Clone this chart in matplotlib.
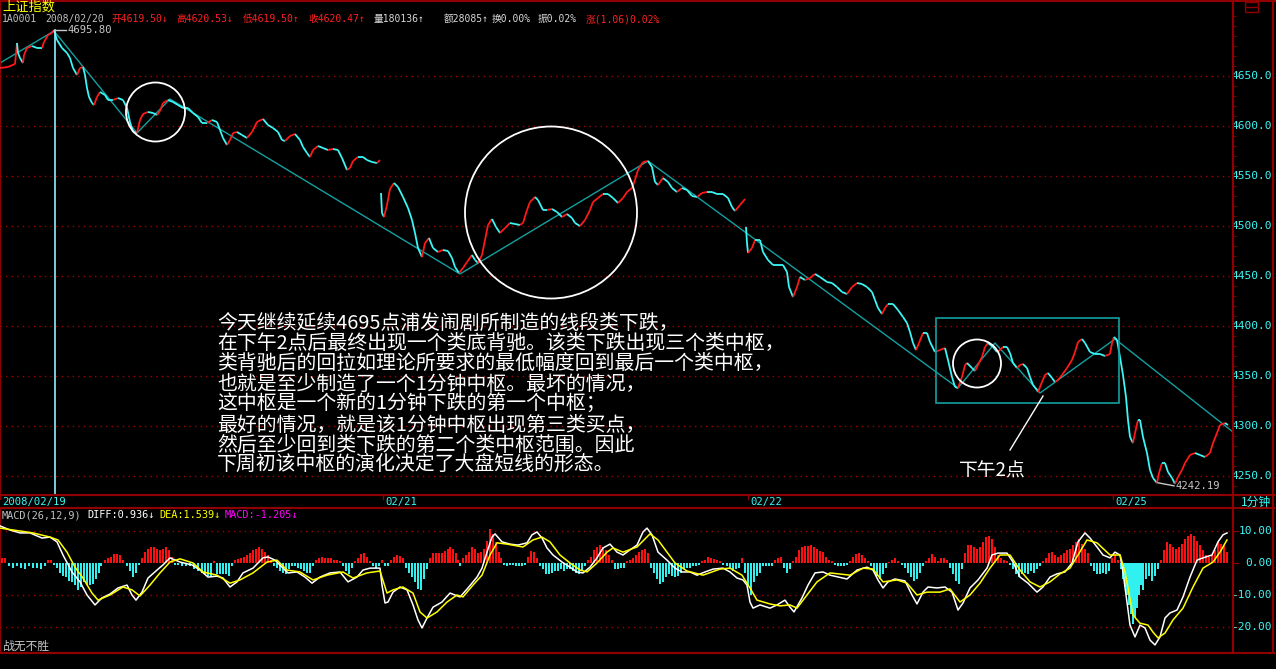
import numpy as np
import matplotlib
matplotlib.use("Agg")
import matplotlib.pyplot as plt
from matplotlib.collections import LineCollection
from matplotlib.patches import Circle, Rectangle

plt.rcParams['font.family'] = ['DejaVu Sans Mono', 'Noto Sans CJK SC']

# ---- data: time axis in chart units (one unit per screen column) ----
day1 = [(0, 4658), (8, 4659), (15, 4662), (17, 4683), (18, 4673), (20, 4668), (23, 4663), (24, 4671),
        (27, 4678), (32, 4680), (37, 4678), (42, 4678), (44, 4684), (48, 4691), (52, 4693), (54, 4695.8),
        (57, 4686), (62, 4678), (67, 4673), (70, 4668), (73, 4658), (77, 4651), (80, 4658), (83, 4659),
        (85, 4651), (87, 4638), (89, 4629), (92, 4623), (94, 4621), (97, 4629), (100, 4634), (105, 4631),
        (108, 4626), (113, 4626), (118, 4628), (123, 4626), (127, 4618), (130, 4604), (133, 4594), (137, 4593),
        (140, 4606), (143, 4612), (148, 4614), (153, 4613), (157, 4611), (160, 4615), (163, 4623), (168, 4626),
        (173, 4624), (178, 4621), (183, 4618), (188, 4618), (193, 4613), (198, 4609), (202, 4603), (207, 4603),
        (212, 4606), (217, 4604), (220, 4596), (223, 4588), (227, 4581), (230, 4586), (233, 4593), (237, 4594),
        (242, 4591), (247, 4588), (252, 4594), (257, 4604), (263, 4607), (268, 4601), (273, 4598), (278, 4594),
        (282, 4586), (285, 4585), (290, 4590), (295, 4592), (300, 4586), (303, 4579), (307, 4573), (310, 4569),
        (313, 4576), (318, 4580), (323, 4578), (328, 4576), (333, 4577), (338, 4576), (342, 4568), (347, 4556),
        (350, 4558), (353, 4565), (358, 4569), (363, 4569), (367, 4566), (372, 4564), (377, 4563), (380, 4566)]

day2 = [(381, 4533), (382, 4513), (384, 4509), (387, 4521), (390, 4537), (394, 4543), (398, 4539), (403, 4529),
        (408, 4518), (412, 4506), (415, 4493), (418, 4478), (422, 4469), (425, 4483), (429, 4488), (433, 4478),
        (438, 4474), (443, 4476), (448, 4475), (452, 4468), (455, 4459), (459, 4453), (463, 4458), (467, 4464),
        (472, 4471), (475, 4466), (478, 4463), (482, 4471), (485, 4486), (488, 4501), (492, 4507), (496, 4499),
        (500, 4493), (505, 4498), (510, 4503), (515, 4502), (520, 4501), (523, 4503), (527, 4516), (530, 4524),
        (535, 4529), (538, 4526), (543, 4516), (547, 4516), (552, 4517), (557, 4514), (562, 4509), (567, 4512),
        (572, 4508), (575, 4503), (580, 4500), (585, 4506), (590, 4516), (593, 4524), (598, 4528), (603, 4532),
        (608, 4532), (613, 4528), (618, 4523), (623, 4528), (627, 4534), (632, 4538), (635, 4546), (638, 4556),
        (643, 4564), (648, 4565), (652, 4559), (655, 4544), (658, 4541), (663, 4548), (668, 4544), (672, 4538),
        (677, 4534), (682, 4538), (687, 4536), (692, 4530), (697, 4529), (702, 4533), (707, 4534), (712, 4534),
        (717, 4532), (723, 4532), (728, 4528), (732, 4519), (735, 4515), (740, 4521), (745, 4527)]

day3 = [(746, 4499), (747, 4483), (748, 4473), (752, 4478), (755, 4486), (760, 4486), (763, 4474), (768, 4466),
        (773, 4461), (780, 4461), (783, 4461), (787, 4454), (789, 4439), (793, 4429), (797, 4439), (800, 4449),
        (805, 4446), (810, 4448), (815, 4452), (820, 4449), (827, 4444), (832, 4443), (837, 4439), (842, 4434),
        (847, 4432), (852, 4439), (857, 4443), (862, 4442), (867, 4439), (872, 4434), (875, 4426), (878, 4418),
        (882, 4412), (885, 4418), (888, 4422), (893, 4422), (898, 4416), (903, 4409), (907, 4403), (910, 4394),
        (913, 4383), (916, 4376), (919, 4383), (923, 4393), (927, 4393), (930, 4384), (935, 4374), (940, 4376),
        (945, 4378), (948, 4366), (952, 4349), (955, 4339), (958, 4338), (962, 4349), (965, 4361), (967, 4363),
        (972, 4358), (975, 4355), (978, 4361), (982, 4369), (985, 4379), (988, 4383), (993, 4379), (997, 4374),
        (1000, 4376), (1003, 4379), (1007, 4379), (1010, 4373), (1013, 4363), (1017, 4358), (1020, 4361),
        (1023, 4362), (1027, 4358), (1030, 4349), (1033, 4341), (1037, 4336), (1038, 4334), (1042, 4344),
        (1045, 4351), (1048, 4353), (1052, 4348), (1055, 4344), (1058, 4346), (1062, 4351), (1067, 4358),
        (1072, 4366), (1075, 4374), (1078, 4384), (1082, 4387), (1085, 4383), (1090, 4374), (1095, 4372),
        (1100, 4372), (1105, 4370), (1110, 4372), (1112, 4383), (1114, 4389), (1117, 4386), (1120, 4369),
        (1123, 4351), (1126, 4329), (1128, 4306), (1130, 4289), (1133, 4283), (1135, 4293), (1138, 4306),
        (1140, 4306), (1143, 4289), (1147, 4273), (1150, 4256), (1153, 4248), (1157, 4243), (1159, 4253),
        (1162, 4263), (1165, 4263), (1168, 4254), (1172, 4248), (1175, 4242.19), (1178, 4249), (1182, 4256),
        (1185, 4263), (1190, 4271), (1195, 4273), (1200, 4271), (1205, 4269), (1210, 4273), (1213, 4283),
        (1217, 4293), (1220, 4301), (1225, 4303), (1228, 4301)]

# hand-drawn segment lines, circles and the hub box
trend = [(0, 4663), (54, 4695), (137, 4593), (170, 4627), (460, 4452), (648, 4565), (958, 4338),
         (995, 4383), (1040, 4333), (1115, 4387), (1233, 4294)]
circles = [(155.5, 4614, 29.5), (551, 4513.5, 86), (977, 4362.5, 24)]
hub_box = (936, 4323, 1119, 4408)
pointer = [(1043, 4330), (1010, 4276)]

diff_line = [(0, 11.6), (10, 10.3), (20, 9.4), (30, 9.4), (42, 7.8), (50, 8.1), (57, 6.6), (63, 2.5),
             (72, -2.8), (80, -5.9), (87, -10.0), (95, -13.1), (102, -10.9), (110, -9.7), (118, -7.8),
             (127, -6.9), (132, -10.0), (136, -11.6), (142, -9.1), (148, -4.7), (157, -2.2), (163, -0.6),
             (170, 1.6), (180, 0.3), (192, -0.6), (200, -2.2), (208, -4.4), (217, -4.1), (223, -4.7),
             (230, -7.5), (237, -5.9), (243, -3.1), (253, -1.6), (263, 1.6), (268, 1.9), (275, 0.9),
             (282, -1.3), (288, -3.1), (297, -2.8), (305, -4.4), (312, -6.3), (320, -4.4), (330, -3.1),
             (340, -2.8), (348, -5.9), (357, -4.4), (363, -2.2), (370, -1.6), (380, -1.6), (382, -6.9),
             (385, -12.5), (388, -12.2), (393, -9.1), (400, -7.5), (407, -8.4), (413, -13.1), (418, -17.8),
             (422, -20.3), (427, -17.2), (433, -13.8), (442, -12.2), (450, -9.4), (460, -10.6), (468, -7.8),
             (477, -4.4), (482, -1.6), (487, 3.4), (492, 8.1), (495, 9.1), (502, 6.6), (510, 5.9), (518, 5.6),
             (527, 6.3), (532, 8.8), (537, 9.7), (542, 7.8), (547, 4.7), (553, 2.5), (562, 0.3), (570, -1.3),
             (577, -2.8), (583, -3.1), (590, -1.3), (597, 1.6), (603, 4.7), (610, 5.9), (617, 3.4), (623, 2.5),
             (630, 4.1), (637, 5.6), (643, 9.7), (647, 10.9), (652, 8.8), (658, 3.4), (667, 0.9), (675, -1.6),
             (682, -2.8), (690, -2.8), (697, -3.8), (705, -2.8), (713, -1.9), (723, -1.6), (730, -2.8),
             (737, -4.7), (743, -5.3), (747, -6.9), (750, -12.2), (753, -14.1), (760, -13.1), (770, -14.1),
             (777, -13.1), (785, -11.6), (790, -13.8), (794, -15.3), (802, -10.9), (808, -6.9), (815, -3.1),
             (823, -2.8), (830, -3.8), (847, -5.0), (857, -2.2), (867, -1.3), (873, -2.2), (878, -5.3),
             (883, -7.8), (888, -5.9), (895, -5.0), (905, -5.6), (912, -10.0), (917, -12.8), (923, -9.1),
             (928, -7.5), (937, -7.8), (945, -7.5), (952, -9.1), (958, -14.7), (963, -12.5), (970, -7.8),
             (978, -5.3), (987, -1.6), (992, 2.5), (998, 3.1), (1007, 3.1), (1013, 0.3), (1020, -4.4),
             (1028, -6.3), (1037, -9.1), (1043, -7.5), (1050, -4.4), (1057, -3.4), (1065, -2.8), (1072, 0.0),
             (1078, 6.6), (1085, 9.4), (1090, 7.8), (1097, 5.0), (1103, 2.5), (1110, 1.6), (1115, 3.4),
             (1120, 2.5), (1123, -2.8), (1127, -12.2), (1130, -19.4), (1135, -23.1), (1140, -19.4),
             (1145, -20.3), (1150, -24.1), (1155, -25.6), (1160, -23.1), (1165, -17.2), (1170, -15.6),
             (1177, -14.7), (1183, -10.6), (1190, -4.4), (1197, 0.9), (1203, 1.6), (1212, 2.5), (1218, 6.6),
             (1223, 8.8), (1227, 9.4)]

dea_line = [(0, 10.9), (20, 10.0), (33, 9.4), (50, 8.1), (58, 7.2), (67, 3.4), (75, -1.3), (83, -4.7),
            (92, -9.4), (98, -11.6), (110, -10.0), (123, -7.5), (132, -8.4), (140, -10.3), (150, -6.9),
            (160, -3.1), (170, 0.3), (180, 1.3), (193, 0.0), (203, -2.8), (217, -3.8), (230, -6.3),
            (240, -5.3), (253, -3.1), (267, 0.3), (277, 0.9), (287, -2.2), (300, -2.8), (313, -5.3),
            (327, -3.8), (343, -2.8), (353, -4.7), (367, -3.1), (380, -2.5), (387, -9.4), (393, -8.4),
            (403, -7.5), (413, -9.4), (420, -15.3), (427, -17.2), (437, -15.3), (447, -12.2), (457, -10.0),
            (463, -10.6), (473, -6.9), (482, -3.8), (490, 2.5), (497, 6.3), (507, 5.9), (523, 5.0),
            (533, 7.2), (542, 8.1), (550, 6.6), (560, 2.5), (570, 0.0), (580, -2.2), (587, -2.8), (597, 0.0),
            (607, 3.4), (613, 4.7), (623, 3.4), (637, 5.0), (650, 9.1), (658, 7.2), (667, 3.4), (675, 0.0),
            (687, -2.5), (703, -3.8), (720, -1.9), (730, -1.6), (742, -3.8), (750, -7.8), (757, -11.6),
            (770, -12.8), (780, -13.4), (790, -13.1), (797, -14.1), (807, -10.0), (817, -5.9), (830, -3.1),
            (850, -3.8), (863, -1.6), (873, -1.9), (883, -5.9), (897, -5.3), (907, -6.3), (917, -10.0),
            (927, -9.1), (940, -9.1), (950, -8.1), (960, -12.2), (970, -10.0), (980, -6.3), (990, -1.6),
            (1000, 2.5), (1010, 2.5), (1020, -2.2), (1030, -5.9), (1040, -7.5), (1050, -5.9), (1060, -3.4),
            (1070, -1.6), (1078, 2.5), (1087, 7.2), (1097, 6.3), (1110, 2.5), (1120, 2.5), (1125, -2.8),
            (1133, -16.3), (1140, -18.8), (1148, -19.4), (1153, -21.6), (1158, -23.4), (1165, -21.9),
            (1173, -17.8), (1183, -14.1), (1193, -7.5), (1203, -1.6), (1213, 0.3), (1220, 3.4), (1227, 7.2)]

macd_bars = [(2, 1.5), (5, 1.5), (9, -1), (13, -1.5), (17, -1), (21, -1.5), (25, -2), (29, -1), (33, -1.5),
             (37, -1.5), (41, -2), (45, -1), (48, 0.8), (51, 0.8), (54, -0.5), (57, -1.5), (60, -3), (63, -4),
             (66, -4.5), (69, -5.5), (72, -6), (75, -7), (78, -8.5), (81, -7.5), (84, -6), (87, -7), (90, -7),
             (93, -6.5), (96, -5), (99, -3), (101, -1), (105, 1), (108, 1.5), (111, 2), (114, 2.8), (117, 2.8),
             (120, 2.5), (123, 1), (127, -1), (130, -2.5), (133, -4.5), (136, -3), (139, -0.5), (142, 1.5),
             (145, 3.5), (148, 4.5), (151, 5), (154, 5), (157, 4.5), (160, 4), (163, 4.5), (166, 5), (169, 4),
             (172, 2), (175, -0.5), (178, -0.5), (182, -1), (186, -1), (190, -1), (194, -2), (198, -2.5),
             (202, -3), (205, -3.5), (208, -4), (211, -4), (214, 0.5), (217, -3.5), (220, -3.5), (223, -3.5),
             (226, -3.5), (229, -4), (232, -1), (235, 1), (238, 1.3), (241, 1.5), (244, 2), (247, 2.5),
             (250, 3), (253, 4), (256, 4.5), (259, 5), (262, 4.5), (265, 3.5), (268, 2.5), (271, 1), (274, -1),
             (277, -1.5), (280, -2.5), (283, -3), (286, -3.5), (289, -2), (292, -1), (295, -1), (298, -1.5),
             (301, -2), (304, -2.5), (307, -3), (310, -3), (313, -1), (316, 1), (319, 1.5), (322, 1.8),
             (325, 1.5), (328, 1.5), (331, 1.5), (334, 1), (337, 0.8), (340, 0.5), (343, -1), (346, -2.5),
             (349, -3.5), (352, -1.5), (355, 0.5), (358, 1.5), (361, 2.8), (364, 3), (367, 2), (370, 0.5),
             (373, -1), (376, -1.5), (379, -1), (382, 1), (385, -1), (388, -1), (391, 1), (394, 2), (397, 2.4),
             (400, 2.2), (403, 1.5), (406, -1.5), (409, -3), (412, -4.5), (415, -6), (418, -8), (421, -8.5),
             (424, -5), (427, -2), (430, 1.5), (433, 3), (436, 3), (439, 3), (442, 3.2), (445, 3.8), (448, 4.5),
             (450, 5), (453, 4.5), (456, 3), (458, 1), (460, -1), (463, 1.5), (466, 2.5), (469, 3.5), (472, 5),
             (475, 4.5), (478, 3), (481, 3.5), (484, 4.5), (487, 7), (490, 10.5), (493, 9), (496, 6.5),
             (499, 3.5), (501, 1.5), (504, -0.5), (507, -0.8), (510, -0.5), (513, -0.5), (516, -0.8),
             (519, -1), (522, -1), (525, -0.5), (528, 2), (531, 3.8), (534, 3.5), (537, 1.5), (540, -1),
             (543, -2), (546, -3.5), (549, -3.5), (552, -3), (555, -2.5), (558, -2.5), (561, -2), (564, -2.5),
             (567, -2), (570, -2), (573, -2.5), (576, -3), (579, -3.5), (582, -2.5), (585, -1), (588, 1),
             (591, 2), (594, 4), (597, 5), (600, 5.5), (603, 5), (606, 4), (609, 2.5), (612, 1), (615, -2),
             (618, -2), (621, -1.5), (624, -1.5), (627, 0.5), (630, 1), (633, 1.5), (636, 2.5), (639, 3.5),
             (642, 4.2), (645, 4.5), (648, 3), (651, -1.5), (654, -3), (657, -5), (660, -6.5), (663, -6),
             (666, -4.5), (669, -3.5), (672, -4), (675, -4.5), (678, -4), (681, -3), (684, -2), (687, -1.5),
             (690, -1.5), (693, -1), (696, -1), (699, -0.5), (702, 0.5), (705, 1), (708, 1.8), (711, 1.5),
             (714, 1.2), (717, 1), (720, 0.5), (723, -0.5), (727, -1), (730, -2), (733, -2.5), (736, -2),
             (739, -1.5), (742, 1.5), (745, -3), (748, -7), (751, -10), (754, -6), (757, -4), (760, -3),
             (763, -1), (766, -1), (769, -1), (772, -0.8), (775, 0.8), (778, 1.5), (781, 1.8), (784, -1.5),
             (787, -3), (790, -2), (793, 0.5), (796, 2), (799, 4), (802, 5), (805, 5.2), (808, 5.3), (811, 5.5),
             (814, 5), (817, 4.5), (820, 3.8), (823, 3.5), (826, 2), (829, 1), (832, 0.5), (835, -0.5),
             (838, -1), (841, -1), (844, -1), (847, -0.5), (850, 0.5), (853, 2), (856, 2.8), (859, 3),
             (862, 2.5), (865, 1.5), (868, 0.5), (871, -1), (874, -2.5), (877, -4), (880, -5), (883, -3.5),
             (886, -1.5), (889, 0.3), (892, 1), (895, 1.5), (898, 0.5), (902, -0.5), (905, -1.5), (908, -3),
             (911, -4.5), (914, -5.5), (917, -5), (920, -3), (923, -1), (926, 0.5), (929, 1.5), (932, 2.8),
             (935, 2), (938, 0.5), (941, 1.5), (944, 1.5), (947, 0.8), (950, -1.5), (953, -3.5), (956, -5.5),
             (959, -6.5), (962, -2), (965, 3), (968, 5.5), (971, 5.5), (974, 5), (977, 4.5), (980, 5),
             (983, 6.5), (986, 8), (989, 8.5), (992, 7.5), (995, 5), (998, 2.5), (1001, 1.5), (1004, 1),
             (1007, 0.5), (1010, -0.5), (1013, -2), (1016, -3.5), (1019, -4.5), (1022, -3.5), (1025, -3),
             (1028, -3.5), (1031, -2.5), (1034, -3), (1037, -2), (1040, -1), (1043, 0.5), (1046, 1.5),
             (1049, 3), (1052, 3.5), (1055, 2.5), (1058, 2), (1061, 2.5), (1064, 3), (1067, 4), (1070, 4.5),
             (1073, 5.5), (1076, 6.5), (1079, 7.5), (1082, 6), (1085, 4.5), (1088, 3), (1091, -1),
             (1094, -2.5), (1097, -3.5), (1100, -3.5), (1103, -3), (1106, -3.5), (1109, -2.5), (1112, 1.5),
             (1115, 2.5), (1118, 1), (1121, -2), (1123, -5), (1125, -7.5), (1127, -10), (1129, -13),
             (1131, -16), (1133, -19), (1135, -17), (1137, -14), (1139, -10), (1141, -7), (1143, -8.5),
             (1146, -5), (1149, -4), (1152, -5.5), (1155, -4), (1158, -2), (1161, 1), (1164, 4), (1167, 6.5),
             (1170, 6), (1173, 5), (1176, 4.5), (1179, 5), (1182, 6), (1185, 7.5), (1188, 8.5), (1191, 9),
             (1194, 8.5), (1197, 7), (1200, 5.5), (1203, 4), (1206, 2.5), (1209, 2), (1212, 2.5), (1215, 4),
             (1218, 6.5), (1221, 6), (1224, 5.5), (1227, 3.5)]

price_ticks = [4650, 4600, 4550, 4500, 4450, 4400, 4350, 4300, 4250]
macd_ticks = [10, 0, -10, -20]
macd_grid = [10, -10, -20]
date_ticks = [(0, '2008/02/19'), (383, '02/21'), (748, '02/22'), (1113, '02/25')]
high_point = (54, 4695.80)
low_point = (1175, 4242.19)

quote_items = [(2, '1A0001', '#c0c0c0'), (45, '2008/02/20', '#c0c0c0'), (112, '开4619.50↓', '#ff2020'),
               (176, '高4620.53↓', '#ff2020'), (243, '低4619.50↑', '#ff2020'), (308, '收4620.47↑', '#ff2020'),
               (374, '量180136↑', '#d8d8d8'), (444, '额28085↑', '#d8d8d8'), (492, '换0.00%', '#d8d8d8'),
               (538, '振0.02%', '#d8d8d8'), (586, '涨(1.06)0.02%', '#ff2020')]
macd_items = [(2, 'MACD(26,12,9)', '#c0c0c0'), (87, 'DIFF:0.936↓', '#ffffff'),
              (159, 'DEA:1.539↓', '#ffff00'), (225, 'MACD:-1.205↓', '#ff00ff')]

note_lines = ['今天继续延续4695点浦发闹剧所制造的线段类下跌，',
              '在下午2点后最终出现一个类底背驰。该类下跌出现三个类中枢，',
              '类背驰后的回拉如理论所要求的最低幅度回到最后一个类中枢，',
              '也就是至少制造了一个1分钟中枢。最坏的情况，',
              '这中枢是一个新的1分钟下跌的第一个中枢；',
              '最好的情况，就是该1分钟中枢出现第三类买点，',
              '然后至少回到类下跌的第二个类中枢范围。因此',
              '下周初该中枢的演化决定了大盘短线的形态。']

# ---- styling ----
W, H = 1276, 669
X_END = 1233
RED = '#ff1a1a'
CYAN = '#3cf6f6'
TEAL = '#14a0a0'
DARKRED = '#900000'
GRID = '#a00000'


def fx(x):
    return x / W


def fy(y):
    return 1 - y / H


fig = plt.figure(figsize=(W / 100, H / 100), dpi=100, facecolor='black')

# main price panel: rows 0..495, one price point per pixel
ax = fig.add_axes([0, fy(495), fx(X_END), 495 / H])
ax.set_facecolor('black')
ax.set_xlim(0, X_END)
ax.set_ylim(4726 - 495, 4726)
for p in price_ticks:
    ax.axhline(p, color=GRID, lw=1, ls=(0, (1, 3)), zorder=1)

for day in (day1, day2, day3):
    d = np.array(day, dtype=float)
    pts = d.reshape(-1, 1, 2)
    segs = np.concatenate([pts[:-1], pts[1:]], axis=1)
    cols = np.where(np.diff(d[:, 1]) > 0, RED, CYAN)
    ax.add_collection(LineCollection(segs, colors=cols, linewidths=1.3, zorder=3))

t = np.array(trend)
ax.plot(t[:, 0], t[:, 1], color=TEAL, lw=1, zorder=2)
for cx, cy, r in circles:
    ax.add_patch(Circle((cx, cy), r, fill=False, ec='white', lw=1.3, zorder=4))
ax.add_patch(Rectangle((hub_box[0], hub_box[1]), hub_box[2] - hub_box[0], hub_box[3] - hub_box[1],
                       fill=False, ec=TEAL, lw=1.2, zorder=4))
pp = np.array(pointer)
ax.plot(pp[:, 0], pp[:, 1], color='white', lw=1, zorder=4)
ax.text(992, 4255, '下午2点', color='white', fontsize=13.5, family='Noto Sans CJK SC',
        ha='center', va='center', zorder=5)

# cursor and extreme labels
ax.plot([high_point[0] + 1, high_point[0] + 1], [ax.get_ylim()[0], high_point[1]], color='#8ff0ff', lw=1.2, zorder=3)
ax.plot([high_point[0], high_point[0] + 12], [high_point[1], high_point[1]], color='#c8c8c8', lw=1, zorder=4)
ax.text(high_point[0] + 13, high_point[1], '%.2f' % high_point[1], color='#c8c8c8', fontsize=7.6,
        va='center', ha='left')
ax.plot([low_point[0] - 17, low_point[0] - 1], [low_point[1] + 1, low_point[1] - 2], color='#c8c8c8', lw=1, zorder=4)
ax.text(low_point[0] + 1, low_point[1] - 2, '%.2f' % low_point[1], color='#c8c8c8', fontsize=7.6,
        va='center', ha='left')

for i, line in enumerate(note_lines):
    ax.text(217, 4726 - (323 + i * 20.4), line, color='white', fontsize=14.3, family='Noto Sans CJK SC',
            ha='left', va='center', zorder=5)

ax.set_xticks([])
ax.set_yticks(price_ticks)
ax.set_yticks(np.arange(4240, 4720, 10), minor=True)
ax.yaxis.tick_right()
ax.tick_params(axis='y', which='major', direction='out', length=4, color=DARKRED, labelright=False)
ax.tick_params(axis='y', which='minor', direction='out', length=2, color=DARKRED)
for p in price_ticks:
    ax.text(1.0316, p, '%.1f' % p, transform=ax.get_yaxis_transform(), color=CYAN, fontsize=8,
            ha='right', va='center')
for s in ax.spines.values():
    s.set_color(DARKRED)
    s.set_linewidth(1.5)

# MACD panel: rows 508..653, 10 units = 32 pixels
ax2 = fig.add_axes([0, fy(653), fx(X_END), (653 - 508) / H])
ax2.set_facecolor('black')
ax2.set_xlim(0, X_END)
ax2.set_ylim((563 - 653) / 3.2, (563 - 508) / 3.2)
for v in macd_grid:
    ax2.axhline(v, color=GRID, lw=1, ls=(0, (1, 3)), zorder=1)
b = np.array(macd_bars)
ax2.bar(b[:, 0], b[:, 1], width=2.0, color=np.where(b[:, 1] >= 0, '#ff1010', '#30f0f0'),
        linewidth=0, zorder=2)
dl = np.array(diff_line)
ax2.plot(dl[:, 0], dl[:, 1], color='white', lw=1.1, zorder=3)
de = np.array(dea_line)
ax2.plot(de[:, 0], de[:, 1], color='#ffff00', lw=1.1, zorder=3)
ax2.set_xticks([])
ax2.set_yticks(macd_ticks)
ax2.yaxis.tick_right()
ax2.tick_params(axis='y', direction='out', length=4, color=DARKRED, labelright=False)
for v in macd_ticks:
    ax2.text(1.0316, v, '%.2f' % v, transform=ax2.get_yaxis_transform(), color=CYAN, fontsize=8,
             ha='right', va='center')
for s in ax2.spines.values():
    s.set_color(DARKRED)
    s.set_linewidth(1.5)

# frame lines and header rows
for yy in (495, 508, 653):
    fig.add_artist(plt.Line2D([0, fx(1274)], [fy(yy), fy(yy)], color=DARKRED, lw=1.5))
fig.add_artist(plt.Line2D([fx(1273), fx(1273)], [fy(0), fy(653)], color=DARKRED, lw=1.5))
fig.add_artist(plt.Line2D([fx(X_END), fx(X_END)], [fy(0), fy(653)], color=DARKRED, lw=1.5))
fig.add_artist(plt.Line2D([0, 1], [fy(0.5), fy(0.5)], color=DARKRED, lw=1.5))
fig.add_artist(Rectangle((fx(1245), fy(12)), fx(13), 10 / H, fill=False, ec=DARKRED, lw=1))
fig.add_artist(plt.Line2D([fx(1245), fx(1258)], [fy(7), fy(7)], color=DARKRED, lw=1))

fig.text(fx(2), fy(7), '上证指数', color='#ffff00', fontsize=9.5, family='Noto Sans CJK SC', va='center')
for x, s, c in quote_items:
    fig.text(fx(x), fy(19), s, color=c, fontsize=7.0, va='center', ha='left')
for x, s in date_ticks:
    fig.text(fx(x + 2), fy(502), s, color=CYAN, fontsize=7.6, va='center', ha='left')
    fig.add_artist(plt.Line2D([fx(x), fx(x)], [fy(495), fy(499)], color=DARKRED, lw=1))
fig.text(fx(1256), fy(502), '1分钟', color=CYAN, fontsize=8.5, family='Noto Sans CJK SC', va='center', ha='center')
for x, s, c in macd_items:
    fig.text(fx(x), fy(515), s, color=c, fontsize=7.4, va='center', ha='left')
fig.text(fx(2), fy(646), '战无不胜', color='#c8c8c8', fontsize=8.5, family='Noto Sans CJK SC', va='center')

fig.savefig('out.png', dpi=100, facecolor='black')
